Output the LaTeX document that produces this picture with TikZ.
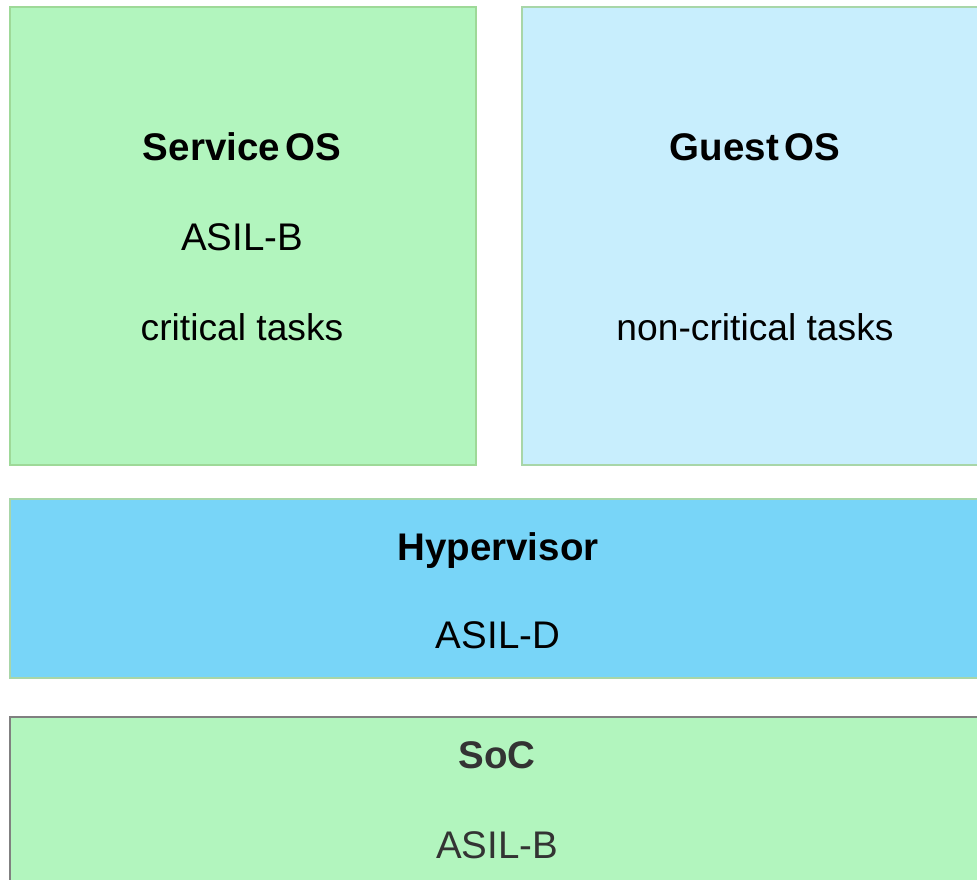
\documentclass[tikz,border=0pt]{standalone}
\usepackage{fontspec}
\setmainfont{Liberation Sans}
\definecolor{gfill}{RGB}{178,245,190}
\definecolor{gline}{RGB}{158,217,152}
\definecolor{lbfill}{RGB}{200,238,253}
\definecolor{hbfill}{RGB}{120,213,248}
\definecolor{bline}{RGB}{168,214,168}
\definecolor{sline}{RGB}{128,128,128}
\definecolor{dtext}{RGB}{51,51,51}
\tikzset{
  layer/.style={line width=2pt},
  lbl/.style={anchor=base, inner sep=0pt, font=\fontsize{38.5}{42}\selectfont},
  task/.style={lbl, font=\fontsize{37.2}{42}\selectfont},
  ttl/.style={lbl, font=\fontsize{38.5}{42}\selectfont\bfseries},
}
\begin{document}
\begin{tikzpicture}[x=1pt,y=-1pt]
\useasboundingbox (0,0) rectangle (977,879);
\begin{scope}
\clip (0,0) rectangle (977,879);
\draw[layer, draw=gline, fill=gfill] (10,7) rectangle (476,465);
\draw[layer, draw=bline, fill=lbfill] (522,7) rectangle (990,465);
\draw[layer, draw=bline, fill=hbfill] (10,499) rectangle (990,678);
\draw[layer, draw=sline, fill=gfill] (10,717) rectangle (990,900);
\end{scope}
\node[ttl] (svc) at (242,160.5) {Service\hspace{0.14em}OS};
\node[lbl] (svcasil) at (242,250.5) {ASIL-B};
\node[task] (svctask) at (242,340.5) {critical tasks};
\node[ttl] (guest) at (755,160.5) {Guest\hspace{0.14em}OS};
\node[task] (guesttask) at (755,340.5) {non-critical tasks};
\node[ttl] (hyp) at (498,560.5) {Hypervisor};
\node[lbl] (hypasil) at (498,648.5) {ASIL-D};
\node[ttl, text=dtext] (soc) at (497,768.5) {SoC};
\node[lbl, text=dtext] (socasil) at (497,858.5) {ASIL-B};
\end{tikzpicture}
\end{document}
